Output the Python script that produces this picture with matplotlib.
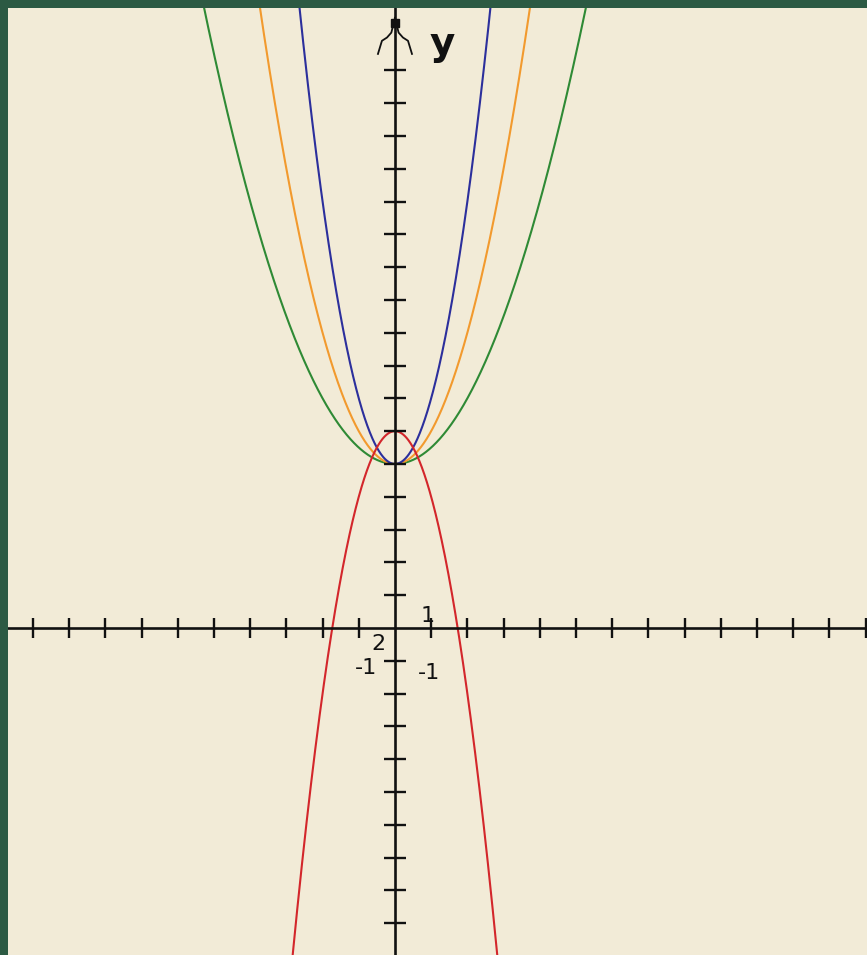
import numpy as np
import matplotlib
matplotlib.use("Agg")
import matplotlib.pyplot as plt

BORDER = "#2c5a43"
PAPER = "#f2ebd7"

# parabolas y = a*x^2 + c
curve_a = [0.5, 1.0, 2.0, -2.0]
curve_c = [5.0, 5.0, 5.0, 6.0]
curve_colors = ["#2f8a35", "#f29a2e", "#2c2f9c", "#d3262b"]

x_ticks = [k for k in range(-10, 14) if k != 0]
y_ticks = [k for k in range(-9, 18) if k != 0]

# the odd, half-overlapping labels around the origin
label_text = ["1", "-1", "2", "-1"]
label_x = [0.91, -0.80, -0.45, 0.93]
label_y = [0.36, -1.22, -0.50, -1.36]

X_LIM = (-10.69, 13.04)
Y_LIM = (-9.97, 18.90)


def main():
    fig = plt.figure(figsize=(8.67, 9.55), dpi=100, facecolor=BORDER)
    ax = fig.add_axes([8 / 867, 0, 859 / 867, 947 / 955])
    ax.set_facecolor(PAPER)
    ax.set_xlim(*X_LIM)
    ax.set_ylim(*Y_LIM)
    ax.set_axis_off()
    ax.add_patch(plt.Rectangle((0, 0), 1, 1, transform=ax.transAxes,
                               facecolor=PAPER, edgecolor="none", zorder=0))

    xs = np.linspace(X_LIM[0], X_LIM[1], 2000)
    for a, c, col in zip(curve_a, curve_c, curve_colors):
        ax.plot(xs, a * xs ** 2 + c, color=col, lw=1.5, zorder=3)

    # axes with cross ticks
    ax.axhline(0, color="#111111", lw=1.9, zorder=4)
    ax.axvline(0, color="#111111", lw=1.9, zorder=4)
    ax.plot(x_ticks, [0] * len(x_ticks), ls="", marker="|", ms=14,
            mew=1.7, color="#111111", zorder=4)
    ax.plot([0] * len(y_ticks), y_ticks, ls="", marker="_", ms=16,
            mew=1.7, color="#111111", zorder=4)

    # arrow head at the top of the y axis
    ax.plot([-0.47, -0.36, -0.22, -0.1, 0.0], [17.5, 17.9, 18.0, 18.15, 18.6],
            color="#111111", lw=1.3, zorder=4)
    ax.plot([0.47, 0.36, 0.22, 0.1, 0.0], [17.5, 17.9, 18.0, 18.15, 18.6],
            color="#111111", lw=1.3, zorder=4)
    ax.plot([0], [18.45], marker="s", ms=6, color="#111111", zorder=4)

    ax.text(1.3, 17.8, "y", fontsize=28, fontweight="bold", color="#111111",
            ha="center", va="center", zorder=5)

    for t, lx, ly in zip(label_text, label_x, label_y):
        ax.text(lx, ly, t, fontsize=16, color="#111111", ha="center",
                va="center", zorder=5)

    fig.savefig("out.png", dpi=100, facecolor=BORDER)
    plt.close(fig)


if __name__ == "__main__":
    main()
